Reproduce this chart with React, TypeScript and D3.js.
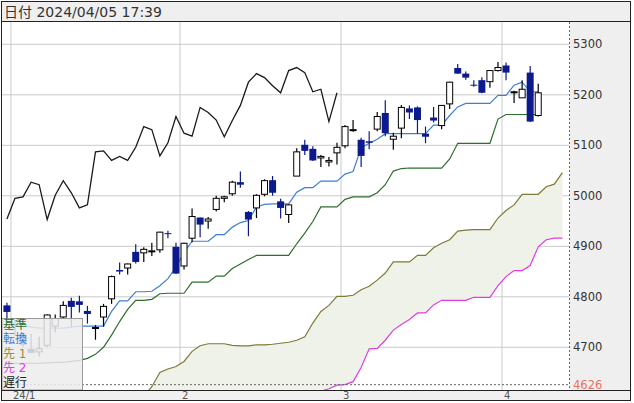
import * as d3 from "d3";

// trading days shown (S&P style daily bars), one slot per day
const dates = [
  "2023/12/29",
  "2024/01/02", "2024/01/03", "2024/01/04", "2024/01/05", "2024/01/08", "2024/01/09", "2024/01/10",
  "2024/01/11", "2024/01/12", "2024/01/16", "2024/01/17", "2024/01/18", "2024/01/19", "2024/01/22",
  "2024/01/23", "2024/01/24", "2024/01/25", "2024/01/26", "2024/01/29", "2024/01/30", "2024/01/31",
  "2024/02/01", "2024/02/02", "2024/02/05", "2024/02/06", "2024/02/07", "2024/02/08", "2024/02/09",
  "2024/02/12", "2024/02/13", "2024/02/14", "2024/02/15", "2024/02/16", "2024/02/20", "2024/02/21",
  "2024/02/22", "2024/02/23", "2024/02/26", "2024/02/27", "2024/02/28", "2024/02/29",
  "2024/03/01", "2024/03/04", "2024/03/05", "2024/03/06", "2024/03/07", "2024/03/08", "2024/03/11",
  "2024/03/12", "2024/03/13", "2024/03/14", "2024/03/15", "2024/03/18", "2024/03/19", "2024/03/20",
  "2024/03/21", "2024/03/22", "2024/03/25", "2024/03/26", "2024/03/27", "2024/03/28",
  "2024/04/01", "2024/04/02", "2024/04/03", "2024/04/04", "2024/04/05",
];

const opens = [
  4783, 4745, 4725, 4697, 4691, 4704, 4742, 4760, 4792, 4791, 4772, 4739.1, 4760, 4796, 4853, 4857,
  4889, 4887, 4889, 4893, 4926, 4899, 4861, 4916, 4957, 4950, 4973, 4995, 5004, 5027, 4968, 4976,
  5003, 5031, 4989, 4963, 5039, 5101, 5093, 5075, 5067, 5085, 5099, 5131, 5111, 5108, 5132, 5164,
  5112, 5134, 5173, 5175, 5123, 5155, 5139, 5182, 5253, 5242, 5220, 5229, 5226, 5248, 5258, 5204,
  5194, 5244, 5159,
];
const highs = [
  4788, 4754, 4729, 4727, 4721, 4765, 4765, 4791, 4798, 4802, 4782, 4744, 4786, 4842, 4868, 4866,
  4904, 4898, 4907, 4929, 4931, 4907, 4907, 4975, 4957, 4958, 5000, 5000, 5030, 5048, 4970, 5003,
  5033, 5039, 4994, 4983, 5094, 5111, 5098, 5081, 5077, 5105, 5140, 5150, 5115, 5128, 5166, 5189,
  5125, 5180, 5179, 5177, 5137, 5176, 5180, 5226, 5261, 5246, 5229, 5235, 5249, 5265, 5264, 5208,
  5229, 5257, 5222,
];
const lows = [
  4752, 4723, 4700, 4688, 4682, 4700, 4730, 4756, 4740, 4769, 4747, 4715, 4741, 4786, 4844, 4844,
  4866, 4869, 4881, 4887, 4916, 4845, 4854, 4908, 4918, 4935, 4969, 4987, 5000, 5016, 4920, 4956,
  4999, 5000, 4955, 4946, 5039, 5081, 5069, 5057, 5058, 5062, 5094, 5127, 5057, 5092, 5128, 5118,
  5091, 5114, 5152, 5123, 5104, 5145, 5132, 5172, 5241, 5230, 5216, 5203, 5214, 5246, 5229, 5184,
  5194, 5146, 5157,
];
const closes = [
  4770, 4743, 4705, 4689, 4697, 4764, 4757, 4783, 4780, 4784, 4766, 4739.2, 4781, 4840, 4850, 4865,
  4869, 4894, 4891, 4928, 4925, 4846, 4906, 4959, 4943, 4954, 4995, 4998, 5027, 5022, 4953, 5001,
  5030, 5006, 4976, 4982, 5087, 5089, 5070, 5078, 5070, 5096, 5137, 5131, 5079, 5105, 5157, 5124,
  5118, 5175, 5165, 5150, 5117, 5149, 5179, 5225, 5242, 5234, 5218, 5204, 5248, 5254, 5244, 5206,
  5211, 5147, 5204,
];

// 転換線 / 基準線 per bar
const tenkan = [
  4745, 4745, 4745, 4740, 4738, 4738, 4738, 4738, 4740, 4742, 4742, 4742, 4742, 4771, 4792, 4792,
  4810, 4810, 4811, 4822, 4836, 4859, 4888, 4910, 4910, 4910, 4923, 4923, 4938, 4947, 4951, 4978,
  4983, 4984, 4984, 4984, 5007, 5016, 5016, 5029, 5029, 5029, 5043, 5048, 5095, 5104, 5112, 5123,
  5123, 5123, 5123, 5123, 5123, 5140, 5140, 5159, 5176, 5183, 5183, 5183, 5183, 5199, 5199, 5219,
  5225, 5206, 5206,
];
const kijun = [
  4668, 4668, 4668, 4668, 4668, 4669, 4670, 4670, 4672, 4674, 4678, 4686, 4700, 4724, 4751, 4775,
  4793, 4793, 4795, 4806, 4807, 4807, 4807, 4829, 4829, 4829, 4841, 4841, 4856, 4865, 4874, 4882,
  4882, 4882, 4882, 4882, 4905, 4926, 4949, 4978, 4978, 4978, 4993, 4998, 4998, 4998, 5006, 5022,
  5049, 5054, 5055, 5055, 5055, 5055, 5055, 5073, 5104, 5104, 5104, 5104, 5104, 5152, 5161, 5161,
  5161, 5161, 5161,
];

// 先行スパン (already shifted ahead), from slot 16 to slot 69
const spanStart = 16;
const senkou1 = [
  4585, 4603, 4622, 4650, 4657, 4662, 4672, 4692, 4703, 4707, 4707, 4707, 4704, 4703, 4703, 4705,
  4705, 4706, 4708, 4710, 4714, 4721, 4748, 4771, 4783, 4801, 4801, 4803, 4814, 4821, 4833, 4847,
  4869, 4869, 4869, 4882, 4882, 4897, 4906, 4913, 4930, 4932, 4933, 4933, 4933, 4956, 4971, 4982,
  5003, 5003, 5003, 5018, 5023, 5046,
];
const senkou2 = [
  4448, 4448, 4455, 4468, 4480, 4489, 4502, 4515, 4530, 4541, 4548, 4553, 4560, 4566, 4574, 4580,
  4586, 4590, 4595, 4600, 4604, 4607, 4610, 4613, 4618, 4625, 4626, 4632, 4660, 4697, 4698, 4714,
  4734, 4745, 4755, 4768, 4768, 4784, 4793, 4793, 4793, 4793, 4799, 4799, 4799, 4822, 4840, 4852,
  4852, 4862, 4899, 4913, 4916, 4916,
];
const chikouShift = 25;

const priceTicks = [4700, 4800, 4900, 5000, 5100, 5200, 5300];
const lowMark = 4626;
const monthStarts = ["2024/01/02", "2024/02/01", "2024/03/01", "2024/04/01"];
const monthLabels = ["24/1", "2", "3", "4"];
const legendItems = ["基準", "転換", "先 1", "先 2", "遅行"];
const legendColors = ["#2f6d2f", "#3d7fd6", "#9a8c3c", "#e03ce0", "#222"];
const headerText = "日付 2024/04/05 17:39";

const W = 634;
const H = 403;
const slotCount = 70;
const plot = { left: 2, right: 569.5, top: 22, bottom: 390 };

const UP_STROKE = "#000";
const DOWN_FILL = "#0c1a8e";
const FONT = "'DejaVu Sans', 'Noto Sans CJK JP', sans-serif";

export default function App() {
  const x = d3.scaleBand<number>().domain(d3.range(slotCount)).range([2.9, 566.4]);
  const cx = (i: number) => (x(i) ?? 0) + x.bandwidth() / 2;
  const y = d3.scaleLinear().domain([4700, 5300]).range([347.3, 44.3]);

  const spans = senkou1.map((a, k) => ({ i: spanStart + k, a, b: senkou2[k] }));
  const cloud = d3
    .area<{ i: number; a: number; b: number }>()
    .x((d) => cx(d.i))
    .y0((d) => y(d.b))
    .y1((d) => y(d.a));
  const spanLine = (key: "a" | "b") =>
    d3
      .line<{ i: number; a: number; b: number }>()
      .x((d) => cx(d.i))
      .y((d) => y(d[key]))(spans) ?? "";
  const barLine = d3
    .line<number>()
    .x((_, i) => cx(i))
    .y((d) => y(d));
  const chikouPath =
    d3
      .line<number>()
      .x((_, k) => cx(k))
      .y((d) => y(d))(closes.slice(chikouShift)) ?? "";

  const bw = 7;

  return (
    <svg
      width={W}
      height={H}
      style={{ position: "absolute", left: 0, top: 0, display: "block" }}
    >
      <defs>
        <clipPath id="plotClip">
          <rect x={plot.left} y={plot.top} width={plot.right - plot.left} height={plot.bottom - plot.top} />
        </clipPath>
      </defs>
      <rect x={0} y={0} width={W} height={H} fill="#fff" />
      {/* header */}
      <rect x={1.5} y={1.5} width={629} height={20} fill="#efefef" />
      <text x={4} y={17} fontFamily={FONT} fontSize={14} fill="#333">
        {headerText}
      </text>
      {/* right axis panel + bottom strip */}
      <rect x={plot.right} y={plot.top} width={631 - plot.right} height={plot.bottom - plot.top} fill="#efefef" />
      <rect x={1.5} y={plot.bottom} width={629} height={10.5} fill="#f0f0f0" />

      <g clipPath="url(#plotClip)">
        {priceTicks.map((t) => (
          <line key={t} x1={plot.left} x2={plot.right} y1={y(t)} y2={y(t)} stroke="#cacaca" />
        ))}
        {monthStarts.map((m) => {
          const gx = x(dates.indexOf(m)) ?? 0;
          return <line key={m} x1={gx} x2={gx} y1={plot.top} y2={plot.bottom} stroke="#cacaca" />;
        })}
        <path d={cloud(spans) ?? ""} fill="#eef2e8" />
        <path d={spanLine("b")} fill="none" stroke="#e03ce0" strokeWidth={1.2} />
        <path d={spanLine("a")} fill="none" stroke="#7f7a35" strokeWidth={1.2} />
        <path d={barLine(kijun) ?? ""} fill="none" stroke="#2f6d2f" strokeWidth={1.2} />
        <path d={barLine(tenkan) ?? ""} fill="none" stroke="#3d7fd6" strokeWidth={1.2} />

        {closes.map((c, i) => {
          const o = opens[i];
          const up = c >= o;
          const top = y(Math.max(o, c));
          const h = Math.max(1, Math.abs(y(o) - y(c)));
          const xc = cx(i);
          return (
            <g key={dates[i]}>
              <line
                x1={xc}
                x2={xc}
                y1={y(highs[i])}
                y2={y(lows[i])}
                stroke={up ? UP_STROKE : DOWN_FILL}
                strokeWidth={1.2}
              />
              {up ? (
                <rect x={xc - bw / 2 + 0.5} y={top} width={bw - 1} height={h} fill="#fff" stroke={UP_STROKE} />
              ) : (
                <rect x={xc - bw / 2} y={top} width={bw} height={h} fill={DOWN_FILL} />
              )}
            </g>
          );
        })}

        <path d={chikouPath} fill="none" stroke="#1a1a1a" strokeWidth={1.3} />
        <line
          x1={plot.left}
          x2={plot.right}
          y1={y(lowMark)}
          y2={y(lowMark)}
          stroke="#666"
          strokeDasharray="2,2"
        />
      </g>

      {/* legend */}
      <rect x={2} y={318.5} width={80.5} height={71.5} fill="#ececec" fillOpacity={0.85} stroke="#9a9a9a" />
      {legendItems.map((t, k) => (
        <text key={t} x={3} y={328.5 + k * 14.5} fontFamily={FONT} fontSize={12} fill={legendColors[k]}>
          {t}
        </text>
      ))}

      {/* right axis */}
      <line x1={plot.right} x2={plot.right} y1={plot.top} y2={plot.bottom} stroke="#666" strokeDasharray="2,2" />
      {priceTicks.map((t) => (
        <text key={t} x={573} y={y(t)} dominantBaseline="central" fontFamily={FONT} fontSize={11.5} fill="#333">
          {t}
        </text>
      ))}
      <text x={573} y={y(lowMark)} dominantBaseline="central" fontFamily={FONT} fontSize={11.5} fill="#e8735a">
        {lowMark}
      </text>

      {/* bottom axis */}
      {monthStarts.map((m, k) => (
        <text key={m} x={(x(dates.indexOf(m)) ?? 0) + 2} y={399} fontFamily={FONT} fontSize={10} fill="#555">
          {monthLabels[k]}
        </text>
      ))}

      {/* frame */}
      <line x1={1} x2={631} y1={21.5} y2={21.5} stroke="#222" />
      <line x1={1} x2={631} y1={plot.bottom + 0.5} y2={plot.bottom + 0.5} stroke="#222" />
      <rect x={1.5} y={1.5} width={629} height={399} fill="none" stroke="#222" />
    </svg>
  );
}
